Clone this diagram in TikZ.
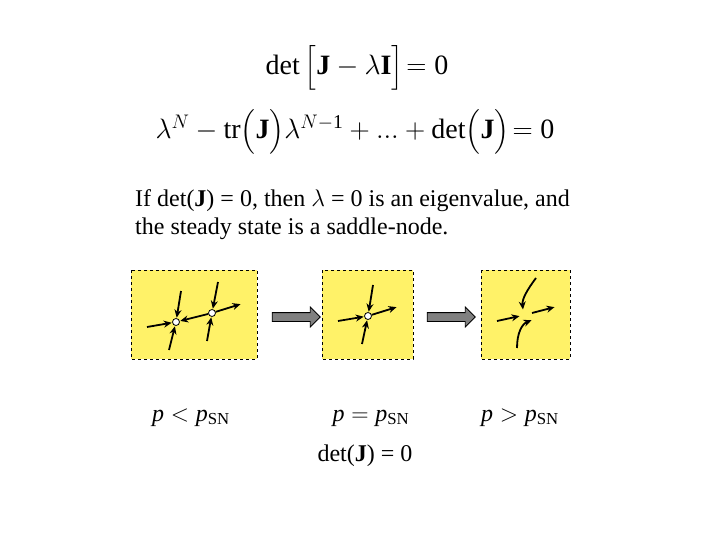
\documentclass[tikz,border=0pt]{standalone}
\usepackage{fix-cm}
\usepackage{amsmath}
\usepackage{fontspec}
\setmainfont{Liberation Serif}
\usetikzlibrary{arrows.meta,shapes.arrows}

\definecolor{padyellow}{RGB}{255,242,104}
\definecolor{arrowgray}{RGB}{128,128,128}

\newcommand{\tallstrut}{\rule[-9pt]{0pt}{33pt}}

\tikzset{
  pbox/.style={draw,dashed,fill=padyellow,line width=0.8pt},
  fp/.style={circle,draw,fill=white,inner sep=0pt,minimum size=7pt,line width=0.8pt},
  flow/.style={-{Stealth[length=8pt,width=7pt]},line width=1.8pt,shorten >=0.5pt},
  blockarrow/.style={single arrow,draw,fill=arrowgray,inner sep=0pt,
    text height=4pt,text depth=4pt,minimum height=48pt,
    single arrow head extend=5.5pt,line width=0.8pt},
  eqtext/.style={font=\fontsize{28}{34}\selectfont},
  bodytext/.style={font=\fontsize{24}{28}\selectfont,inner sep=0pt},
}

\begin{document}
\begin{tikzpicture}[x=1pt,y=-1pt]
    \useasboundingbox (0,0) rectangle (720,540);

    % equations
    \node[eqtext] (eqdet) at (357,68)
        {$\mathrm{det}\left[\tallstrut\mathbf{J}-\lambda\mathbf{I}\right]\!=\mathrm{0}$};
    \node[eqtext] (eqchar) at (355,132)
        {$\lambda^{N}-\mathrm{tr}\!\left(\tallstrut\mathbf{J}\right)\!\lambda^{N-\mathrm{1}}+\mathrm{...}+\mathrm{det}\!\left(\tallstrut\mathbf{J}\right)\!=\mathrm{0}$};

    \node[bodytext,anchor=base west] (txtA) at (135,207)
        {If det(\textbf{J}) = 0, then $\lambda$ = 0 is an eigenvalue, and};
    \node[bodytext,anchor=base west] (txtB) at (135,235)
        {the steady state is a saddle-node.};

    % phase portraits
    \draw[pbox] (131,270) rectangle (257,359);
    \draw[pbox] (322,270) rectangle (413,359);
    \draw[pbox] (481,270) rectangle (570,359);

    \node[blockarrow] (arrA) at (294,317) {};
    \node[blockarrow] (arrB) at (449,317) {};

    % p < p_SN : saddle and node
    \node[fp] (nodeL) at (176,322) {};
    \node[fp] (sadL) at (212,313) {};
    \coordinate (l1) at (147,327);
    \coordinate (l2) at (181,291);
    \coordinate (l3) at (169,350);
    \coordinate (l4) at (218,282);
    \coordinate (l5) at (207,341);
    \coordinate (l6) at (241,304);
    \draw[flow] (l1) -- (nodeL);
    \draw[flow] (l2) -- (nodeL);
    \draw[flow] (l3) -- (nodeL);
    \draw[flow] (sadL) -- (nodeL);
    \draw[flow] (l4) -- (sadL);
    \draw[flow] (l5) -- (sadL);
    \draw[flow] (sadL) -- (l6);

    % p = p_SN : saddle-node
    \node[fp] (snM) at (368,316) {};
    \coordinate (m1) at (338,321);
    \coordinate (m2) at (373,285);
    \coordinate (m3) at (362,344);
    \coordinate (m4) at (397,307);
    \draw[flow] (m1) -- (snM);
    \draw[flow] (m2) -- (snM);
    \draw[flow] (m3) -- (snM);
    \draw[flow] (snM) -- (m4);

    % p > p_SN : no steady state
    \coordinate (r1) at (497,321);
    \coordinate (r2) at (520,316);
    \coordinate (r3) at (532,313);
    \coordinate (r4) at (555,307);
    \coordinate (r5) at (536,278);
    \coordinate (r6) at (523,310);
    \coordinate (r7) at (517,348);
    \coordinate (r8) at (532,320);
    \draw[flow] (r1) -- (r2);
    \draw[flow] (r3) -- (r4);
    \draw[flow] (r5) .. controls (527,290) and (522,299) .. (r6);
    \draw[flow] (r7) .. controls (517,333) and (522,324) .. (r8);

    % labels
    \node[bodytext,anchor=base] (lblL) at (191,421)
        {$\mathit{p}<\mathit{p}_{\mathrm{SN}}$};
    \node[bodytext,anchor=base] (lblM) at (371,421)
        {$\mathit{p}=\mathit{p}_{\mathrm{SN}}$};
    \node[bodytext,anchor=base] (lblR) at (520,421)
        {$\mathit{p}>\mathit{p}_{\mathrm{SN}}$};
    \node[bodytext,anchor=base] (lbldet) at (365,461)
        {det(\textbf{J}) = 0};
\end{tikzpicture}
\end{document}
